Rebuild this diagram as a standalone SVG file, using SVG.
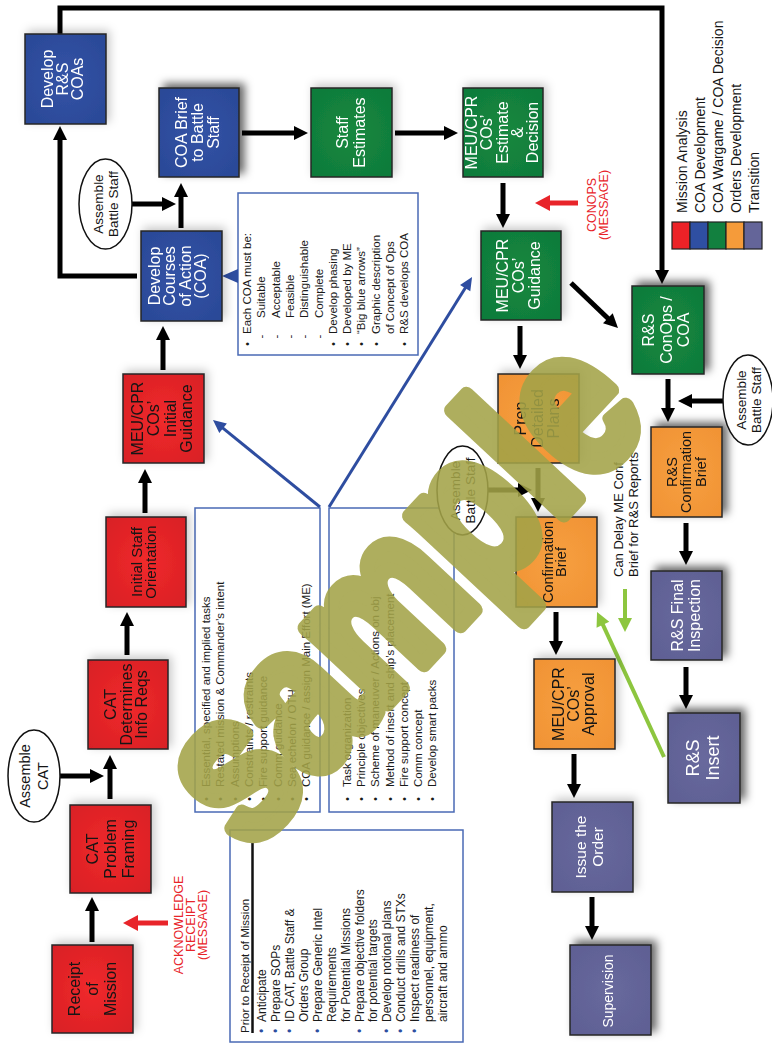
<svg xmlns="http://www.w3.org/2000/svg" width="772" height="1045" viewBox="0 0 772 1045">
<defs>
<style>
.t{font-family:"Liberation Sans",Arial,Helvetica,sans-serif}
.box{stroke:#262626;stroke-width:1.5}
.red{fill:url(#gRed)}
.blue{fill:url(#gBlue)}
.green{fill:url(#gGreen)}
.orange{fill:url(#gOrange)}
.purple{fill:url(#gPurple)}
.w{fill:#fff}
.k{fill:#151515}
.oval{fill:#fff;stroke:#111;stroke-width:1.5}
.note{fill:#fff;stroke:#4a6ab5;stroke-width:1.5}
.ln{fill:none;stroke:#000;stroke-width:5}
.lnR{fill:none;stroke:#e8242a;stroke-width:5}
.lnG{fill:none;stroke:#8dc63f;stroke-width:4}
.lnB{fill:none;stroke:#2e4da0;stroke-width:3}
.list{font-size:11.5px;fill:#1a1a1a}
.msg{fill:#e8242a;font-size:12.5px;text-anchor:middle}
</style>
<radialGradient id="gRed" cx="50%" cy="50%" r="70%"><stop offset="0" stop-color="#f02a2b"/><stop offset="1" stop-color="#d81f25"/></radialGradient>
<radialGradient id="gBlue" cx="50%" cy="50%" r="70%"><stop offset="0" stop-color="#3353a6"/><stop offset="1" stop-color="#2a4896"/></radialGradient>
<radialGradient id="gGreen" cx="50%" cy="50%" r="70%"><stop offset="0" stop-color="#15883f"/><stop offset="1" stop-color="#0f7a3a"/></radialGradient>
<radialGradient id="gOrange" cx="50%" cy="50%" r="70%"><stop offset="0" stop-color="#f7a040"/><stop offset="1" stop-color="#f09234"/></radialGradient>
<radialGradient id="gPurple" cx="50%" cy="50%" r="70%"><stop offset="0" stop-color="#68699d"/><stop offset="1" stop-color="#5e5f93"/></radialGradient>
<filter id="sh" x="-40%" y="-40%" width="180%" height="180%"><feDropShadow dx="3" dy="-3" stdDeviation="5" flood-color="#000" flood-opacity="0.22"/></filter>
<filter id="shd" x="-40%" y="-40%" width="180%" height="180%"><feDropShadow dx="5" dy="-4" stdDeviation="4" flood-color="#000" flood-opacity="0.6"/></filter>
<marker id="ahK" markerUnits="userSpaceOnUse" markerWidth="14" markerHeight="16" refX="0" refY="8" orient="auto" overflow="visible"><path d="M-1,1 L13,8 L-1,15 z" fill="#000"/></marker>
<marker id="ahR" markerUnits="userSpaceOnUse" markerWidth="15" markerHeight="16" refX="0" refY="8" orient="auto" overflow="visible"><path d="M-1,0 L14,8 L-1,16 z" fill="#e8242a"/></marker>
<marker id="ahG" markerUnits="userSpaceOnUse" markerWidth="14" markerHeight="16" refX="0" refY="8" orient="auto" overflow="visible"><path d="M-1,1 L13,8 L-1,15 z" fill="#8dc63f"/></marker>
<marker id="ahB" markerUnits="userSpaceOnUse" markerWidth="13" markerHeight="14" refX="0" refY="7" orient="auto" overflow="visible"><path d="M-1,1 L12,7 L-1,13 z" fill="#2e4da0"/></marker>
</defs>

<rect width="772" height="1045" fill="#fff"/>

<!-- note boxes -->
<g id="note-prior">
<rect class="note" x="230" y="830" width="233" height="212"/>
<path d="M252.5,843 V1033" stroke="#111" stroke-width="2.5"/>
<g class="t list" transform="translate(0,1033) rotate(-90)" font-size="12"><text x="0" y="248.5">Prior to Receipt of Mission</text></g>
<g class="t" font-size="12" fill="#1a1a1a" transform="translate(0,1022) rotate(-90)">
<text x="0" y="266.2">Anticipate</text>
<text x="0" y="280.1">Prepare SOPs</text>
<text x="0" y="294">ID CAT, Battle Staff &amp;</text>
<text x="0" y="307.9">Orders Group</text>
<text x="0" y="321.8">Prepare Generic Intel</text>
<text x="0" y="335.7">Requirements</text>
<text x="0" y="349.6">for Potential Missions</text>
<text x="0" y="363.5">Prepare objective folders</text>
<text x="0" y="377.4">for potential targets</text>
<text x="0" y="391.3">Develop notional plans</text>
<text x="0" y="405.2">Conduct drills and STXs</text>
<text x="0" y="419.1">Inspect readiness of</text>
<text x="0" y="433">personnel, equipment,</text>
<text x="0" y="446.9">aircraft and ammo</text>
<g fill="#2e4da0" text-anchor="middle">
<text x="-9" y="266.2">•</text>
<text x="-9" y="280.1">•</text>
<text x="-9" y="294">•</text>
<text x="-9" y="321.8">•</text>
<text x="-9" y="363.5">•</text>
<text x="-9" y="391.3">•</text>
<text x="-9" y="405.2">•</text>
<text x="-9" y="419.1">•</text>
</g>
</g>
</g>

<g id="note-mission-analysis">
<rect class="note" x="195" y="508" width="125" height="304"/>
<g class="t list" transform="translate(0,787) rotate(-90)">
<text x="0" y="210">Essential, specified and implied tasks</text>
<text x="0" y="224.3">Restated mission &amp; Commander’s intent</text>
<text x="0" y="238.6">Assumptions</text>
<text x="0" y="252.9">Constraints / restraints</text>
<text x="0" y="267.2">Fire support guidance</text>
<text x="0" y="281.5">Comm guidance</text>
<text x="0" y="295.8">Sea echelon / OTH</text>
<text x="0" y="310.1">COA guidance / assign Main Effort (ME)</text>
<g text-anchor="middle">
<text x="-12" y="210">•</text><text x="-12" y="224.3">•</text><text x="-12" y="238.6">•</text><text x="-12" y="252.9">•</text>
<text x="-12" y="267.2">•</text><text x="-12" y="281.5">•</text><text x="-12" y="295.8">•</text><text x="-12" y="310.1">•</text>
</g>
</g>
</g>

<g id="note-orders">
<rect class="note" x="329" y="508" width="125" height="304"/>
<g class="t list" transform="translate(0,787) rotate(-90)">
<text x="0" y="351">Task organization</text>
<text x="0" y="365.2">Principle objectives</text>
<text x="0" y="379.4">Scheme of maneuver / Actions on obj</text>
<text x="0" y="393.6">Method of insert and ship’s placement</text>
<text x="0" y="407.8">Fire support concept</text>
<text x="0" y="422">Comm concept</text>
<text x="0" y="436.2">Develop smart packs</text>
<g text-anchor="middle">
<text x="-12" y="351">•</text><text x="-12" y="365.2">•</text><text x="-12" y="379.4">•</text><text x="-12" y="393.6">•</text>
<text x="-12" y="407.8">•</text><text x="-12" y="422">•</text><text x="-12" y="436.2">•</text>
</g>
</g>
</g>

<g id="note-coa">
<rect class="note" x="238" y="193" width="180" height="162"/>
<g class="t" font-size="11.5" fill="#1a1a1a" transform="translate(0,334) rotate(-90)">
<text x="0" y="251">Each COA must be:</text>
<text x="16" y="265.3">Suitable</text>
<text x="16" y="279.6">Acceptable</text>
<text x="16" y="293.9">Feasible</text>
<text x="16" y="308.2">Distinguishable</text>
<text x="16" y="322.5">Complete</text>
<text x="0" y="336.8">Develop phasing</text>
<text x="0" y="351.1">Developed by ME</text>
<text x="0" y="365.4">“Big blue arrows”</text>
<text x="0" y="379.7">Graphic description</text>
<text x="0" y="394">of Concept of Ops</text>
<text x="0" y="408.3">R&amp;S develops COA</text>
<g text-anchor="middle">
<text x="-10" y="251">•</text>
<text x="-2.5" y="265.3">-</text><text x="-2.5" y="279.6">-</text><text x="-2.5" y="293.9">-</text><text x="-2.5" y="308.2">-</text><text x="-2.5" y="322.5">-</text>
<text x="-10" y="336.8">•</text><text x="-10" y="351.1">•</text><text x="-10" y="365.4">•</text><text x="-10" y="379.7">•</text><text x="-10" y="408.3">•</text>
</g>
</g>
</g>

<!-- connectors -->
<g id="connectors">
<path class="ln" d="M92,942 V910" marker-end="url(#ahK)"/>
<path class="ln" d="M60,776 H91" marker-end="url(#ahK)"/>
<path class="ln" d="M110,799 V768" marker-end="url(#ahK)"/>
<path class="ln" d="M127,655 V625" marker-end="url(#ahK)"/>
<path class="ln" d="M145,513 V482" marker-end="url(#ahK)"/>
<path class="ln" d="M163,370 V339" marker-end="url(#ahK)"/>
<path class="ln" d="M181,228 V196" marker-end="url(#ahK)"/>
<path class="ln" d="M132,204 H163" marker-end="url(#ahK)"/>
<path class="ln" d="M137,276 H60 V139" stroke-width="6" marker-end="url(#ahK)"/>
<path class="ln" d="M60,34 V8 H662 V271" marker-end="url(#ahK)"/>
<path class="ln" d="M242,133 H295" marker-end="url(#ahK)"/>
<path class="ln" d="M395,133 H445" marker-end="url(#ahK)"/>
<path class="ln" d="M503,183 V215" marker-end="url(#ahK)"/>
<path class="ln" d="M520,326 V356" marker-end="url(#ahK)"/>
<path class="ln" d="M571,283 L608.6,319" marker-end="url(#ahK)"/>
<path class="ln" d="M538,468 V499" marker-end="url(#ahK)"/>
<path class="ln" d="M488,490 H519" marker-end="url(#ahK)"/>
<path class="ln" d="M556,612 V642" marker-end="url(#ahK)"/>
<path class="ln" d="M574,754 V785" marker-end="url(#ahK)"/>
<path class="ln" d="M592,897 V927" marker-end="url(#ahK)"/>
<path class="ln" d="M668,379 V409" marker-end="url(#ahK)"/>
<path class="ln" d="M723,401 H691" marker-end="url(#ahK)"/>
<path class="ln" d="M686,523 V552" marker-end="url(#ahK)"/>
<path class="ln" d="M686,667 V696" marker-end="url(#ahK)"/>
<path class="lnR" d="M168,923 H137" marker-end="url(#ahR)"/>
<path class="lnR" d="M578,203 H549" marker-end="url(#ahR)"/>
<path class="lnG" d="M664,757 L602.5,623.8" marker-end="url(#ahG)"/>
<path class="lnG" d="M625,589 V619" marker-end="url(#ahG)"/>
<path class="lnB" d="M320,507 L222.3,427.6" marker-end="url(#ahB)"/>
<path class="lnB" d="M329,507 L465.7,287.2" marker-end="url(#ahB)"/>
<polygon points="238,269 222,276 238,283" fill="#2e4da0"/>
</g>

<!-- process steps -->
<g id="receipt-of-mission" filter="url(#sh)">
<rect class="box red" x="52" y="945" width="81" height="88"/>
<text class="t k" font-size="16" text-anchor="middle" transform="translate(92.3,989) rotate(-90)"><tspan x="0" y="-12.4">Receipt</tspan><tspan x="0" y="5.6">of</tspan><tspan x="0" y="23.6">Mission</tspan></text>
</g>
<g id="cat-problem-framing" filter="url(#sh)">
<rect class="box red" x="70" y="805" width="81" height="88"/>
<text class="t k" font-size="16" text-anchor="middle" transform="translate(110,849) rotate(-90)"><tspan x="0" y="-12.4">CAT</tspan><tspan x="0" y="5.6">Problem</tspan><tspan x="0" y="23.6">Framing</tspan></text>
</g>
<g id="cat-determines" filter="url(#sh)">
<rect class="box red" x="88" y="660" width="80" height="89"/>
<text class="t k" font-size="16" text-anchor="middle" transform="translate(126,704.5) rotate(-90)"><tspan x="0" y="-9.9">CAT</tspan><tspan x="0" y="5.6">Determines</tspan><tspan x="0" y="21.1">Info Reqs</tspan></text>
</g>
<g id="initial-staff-orientation" filter="url(#sh)">
<rect class="box red" x="106" y="517" width="80" height="90"/>
<text class="t k" font-size="15" text-anchor="middle" transform="translate(144,562) rotate(-90)"><tspan x="0" y="-1.75">Initial Staff</tspan><tspan x="0" y="12.25">Orientation</tspan></text>
</g>
<g id="initial-guidance" filter="url(#sh)">
<rect class="box red" x="123" y="374" width="81" height="89"/>
<text class="t k" font-size="16" text-anchor="middle" transform="translate(162,418.5) rotate(-90)"><tspan x="0" y="-19.15">MEU/CPR</tspan><tspan x="0" y="-2.65">COs’</tspan><tspan x="0" y="13.85">Initial</tspan><tspan x="0" y="30.35">Guidance</tspan></text>
</g>
<g id="develop-coa" filter="url(#sh)">
<rect class="box blue" x="141" y="231" width="81" height="90"/>
<text class="t w" font-size="16" text-anchor="middle" transform="translate(177.5,276) rotate(-90)"><tspan x="0" y="-17.65">Develop</tspan><tspan x="0" y="-2.15">Courses</tspan><tspan x="0" y="13.35">of Action</tspan><tspan x="0" y="28.85">(COA)</tspan></text>
</g>
<g id="coa-brief" filter="url(#shd)">
<rect class="box blue" x="159" y="88" width="80" height="89"/>
<text class="t w" font-size="16" text-anchor="middle" transform="translate(197,132.5) rotate(-90)"><tspan x="0" y="-10.4">COA Brief</tspan><tspan x="0" y="5.6">to Battle</tspan><tspan x="0" y="21.6">Staff</tspan></text>
</g>
<g id="develop-rs-coas" filter="url(#sh)">
<rect class="box blue" x="25" y="34" width="81" height="90"/>
<text class="t w" font-size="16" text-anchor="middle" transform="translate(62,79) rotate(-90)"><tspan x="0" y="-9.4">Develop</tspan><tspan x="0" y="5.6">R&amp;S</tspan><tspan x="0" y="20.6">COAs</tspan></text>
</g>
<g id="staff-estimates" filter="url(#sh)">
<rect class="box green" x="311" y="88" width="81" height="89"/>
<text class="t w" font-size="16" text-anchor="middle" transform="translate(351,132.5) rotate(-90)"><tspan x="0" y="-2.9">Staff</tspan><tspan x="0" y="14.1">Estimates</tspan></text>
</g>
<g id="estimate-decision" filter="url(#sh)">
<rect class="box green" x="463" y="88" width="80" height="89"/>
<text class="t w" font-size="16" text-anchor="middle" transform="translate(502,132.5) rotate(-90)"><tspan x="0" y="-24.8">MEU/CPR</tspan><tspan x="0" y="-9.6">COs’</tspan><tspan x="0" y="5.6">Estimate</tspan><tspan x="0" y="20.8">&amp;</tspan><tspan x="0" y="36">Decision</tspan></text>
</g>
<g id="cos-guidance" filter="url(#sh)">
<rect class="box green" x="481" y="231" width="80" height="89"/>
<text class="t w" font-size="16" text-anchor="middle" transform="translate(518,275.5) rotate(-90)"><tspan x="0" y="-10.4">MEU/CPR</tspan><tspan x="0" y="5.6">COs’</tspan><tspan x="0" y="21.6">Guidance</tspan></text>
</g>
<g id="prep-detailed-plans" filter="url(#sh)">
<rect class="box orange" x="498" y="374" width="81" height="89"/>
<text class="t k" font-size="16" text-anchor="middle" transform="translate(537,418.5) rotate(-90)"><tspan x="0" y="-10.9">Prep</tspan><tspan x="0" y="5.6">Detailed</tspan><tspan x="0" y="22.1">Plans</tspan></text>
</g>
<g id="confirmation-brief" filter="url(#sh)">
<rect class="box orange" x="516" y="517" width="81" height="90"/>
<text class="t k" font-size="14.5" text-anchor="middle" transform="translate(554,562) rotate(-90)"><tspan x="0" y="-1.4">Confirmation</tspan><tspan x="0" y="11.6">Brief</tspan></text>
</g>
<g id="cos-approval" filter="url(#sh)">
<rect class="box orange" x="534" y="659" width="81" height="90"/>
<text class="t k" font-size="16" text-anchor="middle" transform="translate(573,704) rotate(-90)"><tspan x="0" y="-9.4">MEU/CPR</tspan><tspan x="0" y="5.6">COs’</tspan><tspan x="0" y="20.6">Approval</tspan></text>
</g>
<g id="issue-order" filter="url(#sh)">
<rect class="box purple" x="552" y="802" width="81" height="90"/>
<text class="t w" font-size="15.5" text-anchor="middle" transform="translate(589,847) rotate(-90)"><tspan x="0" y="-3.1">Issue the</tspan><tspan x="0" y="13.9">Order</tspan></text>
</g>
<g id="supervision" filter="url(#shd)">
<rect class="box purple" x="570" y="945" width="81" height="90"/>
<text class="t w" font-size="14" text-anchor="middle" transform="translate(608,991) rotate(-90)"><tspan x="0" y="4.9">Supervision</tspan></text>
</g>
<g id="rs-conops" filter="url(#shd)">
<rect class="box green" x="632" y="286" width="72" height="88"/>
<text class="t w" font-size="16" text-anchor="middle" transform="translate(666,330) rotate(-90)"><tspan x="0" y="-11.9">R&amp;S</tspan><tspan x="0" y="5.6">ConOps /</tspan><tspan x="0" y="23.1">COA</tspan></text>
</g>
<g id="rs-confirmation-brief" filter="url(#shd)">
<rect class="box orange" x="651" y="427" width="71" height="90"/>
<text class="t k" font-size="14.5" text-anchor="middle" transform="translate(686,472) rotate(-90)"><tspan x="0" y="-9.4">R&amp;S</tspan><tspan x="0" y="5.1">Confirmation</tspan><tspan x="0" y="19.6">Brief</tspan></text>
</g>
<g id="rs-final-inspection" filter="url(#shd)">
<rect class="box purple" x="651" y="571" width="71" height="89"/>
<text class="t w" font-size="16" text-anchor="middle" transform="translate(686,615.5) rotate(-90)"><tspan x="0" y="-2.9">R&amp;S Final</tspan><tspan x="0" y="14.1">Inspection</tspan></text>
</g>
<g id="rs-insert" filter="url(#shd)">
<rect class="box purple" x="668" y="713" width="72" height="90"/>
<text class="t w" font-size="18" text-anchor="middle" transform="translate(703,758) rotate(-90)"><tspan x="0" y="-3.7">R&amp;S</tspan><tspan x="0" y="16.3">Insert</tspan></text>
</g>

<!-- assembly events -->
<g id="assemble-cat">
<ellipse class="oval" cx="34" cy="776" rx="26" ry="46"/>
<text class="t k" font-size="14.5" text-anchor="middle" transform="translate(34,776) rotate(-90)"><tspan x="0" y="-3.9">Assemble</tspan><tspan x="0" y="14.1">CAT</tspan></text>
</g>
<g id="assemble-battle-staff-1">
<ellipse class="oval" cx="105.5" cy="204" rx="26.5" ry="45"/>
<text class="t k" font-size="13.5" text-anchor="middle" transform="translate(105.5,204) rotate(-90)"><tspan x="0" y="-2.8">Assemble</tspan><tspan x="0" y="12.2">Battle Staff</tspan></text>
</g>
<g id="assemble-battle-staff-2">
<ellipse class="oval" cx="462.5" cy="490.5" rx="25.5" ry="44.5"/>
<text class="t k" font-size="13.5" text-anchor="middle" transform="translate(462.5,490.5) rotate(-90)"><tspan x="0" y="-2.8">Assemble</tspan><tspan x="0" y="12.2">Battle Staff</tspan></text>
</g>
<g id="assemble-battle-staff-3">
<ellipse class="oval" cx="748" cy="400" rx="25" ry="45"/>
<text class="t k" font-size="13.5" text-anchor="middle" transform="translate(749,400) rotate(-90)"><tspan x="0" y="-2.8">Assemble</tspan><tspan x="0" y="12.2">Battle Staff</tspan></text>
</g>

<!-- messages and remarks -->
<g id="msg-acknowledge">
<text class="t msg" font-size="12" transform="translate(0,925) rotate(-90)"><tspan x="0" y="183.2">ACKNOWLEDGE</tspan><tspan x="0" y="195.2">RECEIPT</tspan><tspan x="0" y="207.2">(MESSAGE)</tspan></text>
</g>
<g id="msg-conops">
<text class="t msg" transform="translate(0,205) rotate(-90)"><tspan x="0" y="596">CONOPS</tspan><tspan x="0" y="607.5">(MESSAGE)</tspan></text>
</g>
<g id="remark-delay">
<text class="t k" font-size="13" transform="translate(0,577) rotate(-90)"><tspan x="0" y="622.6">Can Delay ME Conf</tspan><tspan x="0" y="637.6">Brief for R&amp;S Reports</tspan></text>
</g>

<!-- legend -->
<g id="legend">
<rect x="672" y="222" width="18" height="27" fill="#ec2227" stroke="#222" stroke-width="1.2"/>
<rect x="690" y="222" width="18" height="27" fill="#2f4fa2" stroke="#222" stroke-width="1.2"/>
<rect x="708" y="222" width="18" height="27" fill="#12803f" stroke="#222" stroke-width="1.2"/>
<rect x="726" y="222" width="18" height="27" fill="#f59b3a" stroke="#222" stroke-width="1.2"/>
<rect x="744" y="222" width="18" height="27" fill="#646599" stroke="#222" stroke-width="1.2"/>
<g class="t k" font-size="14" transform="translate(0,213) rotate(-90)">
<text x="0" y="687">Mission Analysis</text>
<text x="0" y="705">COA Development</text>
<text x="0" y="723">COA Wargame / COA Decision</text>
<text x="0" y="741">Orders Development</text>
<text x="0" y="759">Transition</text>
</g>
</g>

<!-- watermark -->
<text class="t" transform="translate(450,636) rotate(-47) scale(0.82,1)" text-anchor="middle" font-size="210" font-weight="bold" fill="#a3a348" stroke="#a3a348" stroke-width="16" stroke-linejoin="round" opacity="0.88">sample</text>
</svg>
